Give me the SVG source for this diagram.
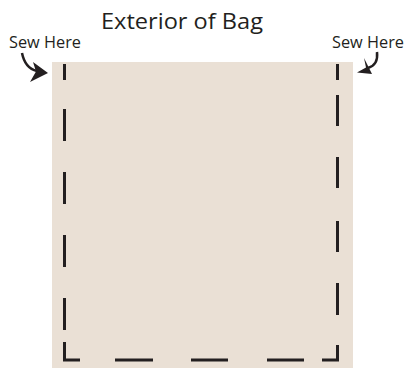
<svg xmlns="http://www.w3.org/2000/svg" width="407" height="369" viewBox="0 0 407 369">
<style>
.lbl{font-family:"Open Sans","Liberation Sans",sans-serif;fill:#231f20}
.stitch{fill:none;stroke:#231f20;stroke-width:3}
.arrow{fill:none;stroke:#231f20;stroke-width:2.5}
</style>
<rect width="407" height="369" fill="#ffffff"/>
<g id="bag">
<rect x="52" y="62" width="301" height="306" fill="#eae0d5"/>
</g>
<g id="title">
<text class="lbl" x="182" y="29" font-size="22" text-anchor="middle" textLength="162" lengthAdjust="spacingAndGlyphs">Exterior of Bag</text>
</g>
<g id="label-left">
<text class="lbl" x="9" y="47.5" font-size="16.5" textLength="72" lengthAdjust="spacingAndGlyphs">Sew Here</text>
</g>
<g id="label-right">
<text class="lbl" x="332" y="47.5" font-size="16.5" textLength="72" lengthAdjust="spacingAndGlyphs">Sew Here</text>
</g>
<g id="connectors">
<path class="stitch" d="M64.5,64 V80 M64.5,109 V141 M64.5,172 V204 M64.5,235 V267 M64.5,298 V330 M64.5,342 V360 H80 M115,360 H153 M191,360 H228 M267,360 H304 M322,360 H337.5 V345 M337.5,315 V283 M337.5,252 V221 M337.5,188 V157 M337.5,126 V95 M337.5,80 V64"/>
<path class="arrow" d="M22,53 C24,63 28,69 37,71"/>
<polygon points="33,62 48,73 30,82 36,71.5" fill="#231f20"/>
<path class="arrow" d="M377,52 C378,61 375,66 368,68"/>
<polygon points="364,58 372,74 357,72.5 366,67.5" fill="#231f20"/>
</g>
</svg>
